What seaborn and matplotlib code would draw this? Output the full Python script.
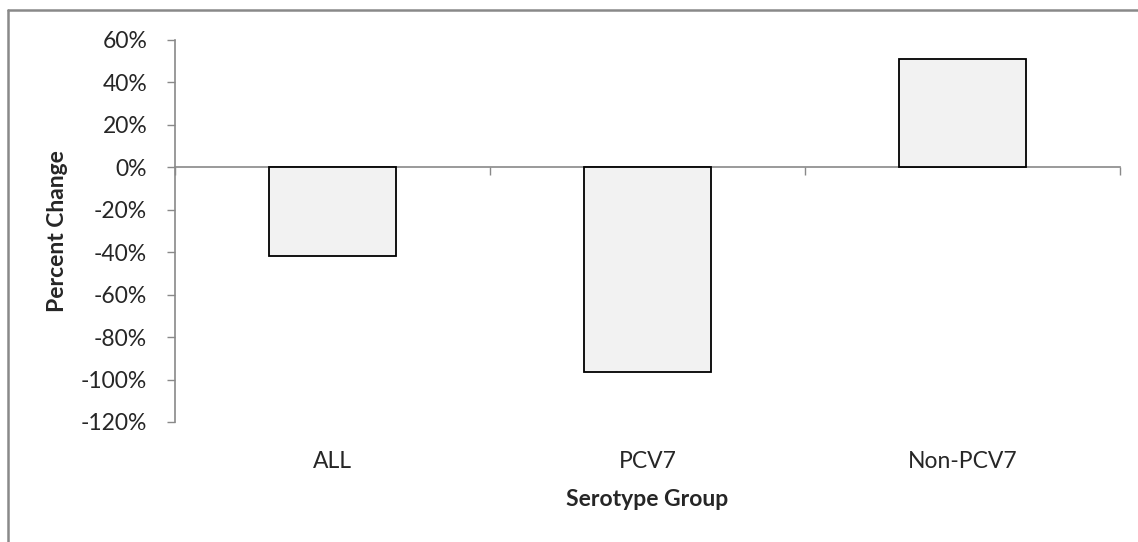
import numpy as np
import matplotlib
matplotlib.use("Agg")
import matplotlib.pyplot as plt
from matplotlib.lines import Line2D
from matplotlib.ticker import FuncFormatter
import pandas as pd
import seaborn as sns

sns.set_theme(style="white")
plt.rcParams['font.family'] = ['Lato', 'DejaVu Sans']

# data
groups = ["ALL", "PCV7", "Non-PCV7"]
pct_change = [-41.6, -96.6, 51.1]
y_ticks = [60, 40, 20, 0, -20, -40, -60, -80, -100, -120]

df = pd.DataFrame({"group": groups, "change": pct_change})

axis_grey = "#898989"
fs = 16.5

fig = plt.figure(figsize=(11.38, 5.42), dpi=100)
ax = fig.add_axes([175 / 1138, 1 - 422 / 542, 945 / 1138, 382 / 542])

sns.barplot(data=df, x="group", y="change", color="#f2f2f2", saturation=1,
            edgecolor="black", linewidth=1.3, width=0.403, ax=ax)

ax.set_ylim(-120, 60)
ax.set_xlim(-0.5, 2.5)
ax.set_yticks(y_ticks)
ax.yaxis.set_major_formatter(FuncFormatter(lambda v, p: f"{v:.0f}%"))
ax.tick_params(axis="y", length=6, width=1, color=axis_grey, pad=14,
               labelsize=fs, direction="out", left=True)
ax.tick_params(axis="x", length=0, pad=21, labelsize=fs)

for side in ["top", "right", "bottom"]:
    ax.spines[side].set_visible(False)
ax.spines["left"].set_color(axis_grey)
ax.spines["left"].set_linewidth(1.2)

# category axis sits on the zero line with ticks between groups
zero_axis = ax.secondary_xaxis(0, transform=ax.transData)
zero_axis.set_xticks([-0.5, 0.5, 1.5, 2.5])
zero_axis.set_xticklabels([])
zero_axis.tick_params(axis="x", length=6, width=1, color=axis_grey, direction="out")
zero_axis.spines["bottom"].set_color(axis_grey)
zero_axis.spines["bottom"].set_linewidth(1.2)

ax.set_ylabel("Percent Change", fontsize=fs, fontweight="bold")
ax.yaxis.set_label_coords(-0.124, 0.5)
ax.yaxis.label.set_va("center")
ax.set_xlabel("Serotype Group", fontsize=fs, fontweight="bold")
ax.xaxis.set_label_coords(0.5, -0.202)
ax.xaxis.label.set_va("center")

# chart area border (cropped on right and bottom)
fig.add_artist(Line2D([8 / 1138, 8 / 1138], [0, 1 - 10 / 542], color=axis_grey, lw=1.8))
fig.add_artist(Line2D([8 / 1138, 1], [1 - 10 / 542, 1 - 10 / 542], color=axis_grey, lw=1.8))

fig.savefig("out.png", dpi=100, facecolor="white")
